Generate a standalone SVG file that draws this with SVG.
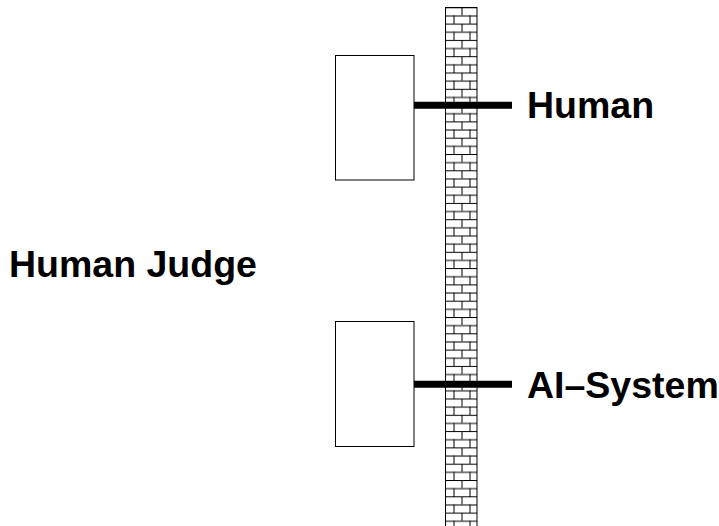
<svg xmlns="http://www.w3.org/2000/svg" width="719" height="526" viewBox="0 0 719 526">
<style>
.box{fill:#fff;stroke:#000;stroke-width:1}
.bar{stroke:#000;stroke-width:7;fill:none}
.lbl{font-family:"Liberation Sans",Arial,sans-serif;font-weight:bold;font-size:37.5px;fill:#000}
.bl{stroke:#000;stroke-width:1;fill:none}
</style>
<defs>
<pattern id="brick" patternUnits="userSpaceOnUse" x="445" y="7.3" width="32" height="16.3">
<rect x="0" y="0" width="32" height="16.3" fill="#fff"/>
<line class="bl" x1="0" y1="0.5" x2="32" y2="0.5"/>
<line class="bl" x1="0" y1="8.65" x2="32" y2="8.65"/>
<line class="bl" x1="17" y1="0" x2="17" y2="8.15"/>
<line class="bl" x1="9" y1="8.15" x2="9" y2="16.3"/>
<line class="bl" x1="25" y1="8.15" x2="25" y2="16.3"/>
</pattern>
</defs>
<g id="wall">
<rect x="445.5" y="7.5" width="31.5" height="520" fill="url(#brick)" stroke="#000" stroke-width="1"/>
</g>
<g id="human-box"><rect class="box" x="335.5" y="55.5" width="78.5" height="124.5"/></g>
<g id="ai-box"><rect class="box" x="335.5" y="321.5" width="78.5" height="125"/></g>
<g id="connectors">
<line class="bar" x1="414" y1="105.3" x2="512" y2="105.3"/>
<line class="bar" x1="414" y1="384.2" x2="512" y2="384.2"/>
</g>
<g id="judge"><text class="lbl" x="9" y="277">Human Judge</text></g>
<g id="human"><text class="lbl" x="527" y="118">Human</text></g>
<g id="ai"><text class="lbl" x="527" y="398">AI–System</text></g>
</svg>
